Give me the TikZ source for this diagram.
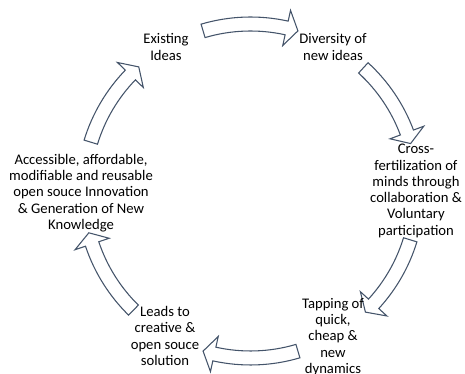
\documentclass[tikz,border=0pt]{standalone}
\usepackage{fontspec}
\setmainfont{Carlito}
\definecolor{arrowline}{HTML}{44546A}
\tikzset{
  lbl/.style={align=center, font=\fontsize{11pt}{12.2pt}\selectfont, inner sep=0pt, text=black},
  cyc/.style={draw=arrowline, fill=white, line width=0.8pt, line join=miter}
}
\begin{document}
\begin{tikzpicture}[x=0.75pt,y=0.75pt]
\useasboundingbox (0,0) rectangle (465,374);
\coordinate (C) at (250.5,183);
% tail angle / tip angle for each block arc arrow
\foreach \t/\p in {106.5/73.5, 47.5/16.5, -17/-46.5, -73.5/-106.5, -134.5/-165.5, 163/132}{
  \pgfmathsetmacro{\h}{\p+4}
  \draw[cyc,shift={(C)}]
    (\t:174) arc[start angle=\t, end angle=\h, radius=174]
    -- (\h:185) -- (\p:167) -- (\h:149) -- (\h:160)
    arc[start angle=\h, end angle=\t, radius=160] -- cycle;
}
\node[lbl] (existing) at (166,327) {Existing\\Ideas};
\node[lbl] (diversity) at (333,327) {Diversity of\\new ideas};
\node[lbl] (cross) at (416,183) {Cross-\\fertilization of\\minds through\\collaboration \&\\Voluntary\\participation};
\node[lbl] (tapping) at (333,37) {Tapping of\\quick,\\cheap \&\\new\\dynamics};
\node[lbl] (leads) at (165,38) {Leads to\\creative \&\\open souce\\solution};
\node[lbl] (access) at (81,181) {Accessible, affordable,\\modifiable and reusable\\open souce Innovation\\\& Generation of New\\Knowledge};
\end{tikzpicture}
\end{document}
